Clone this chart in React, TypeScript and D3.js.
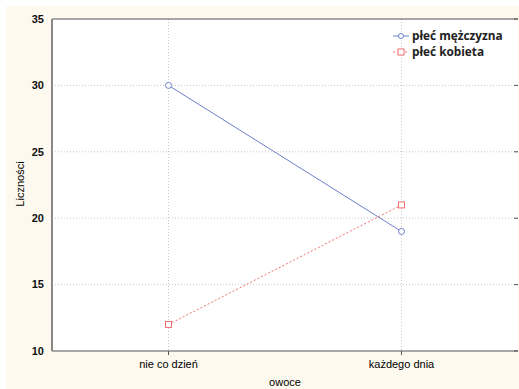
import React, { useEffect, useRef } from 'react'
import * as d3 from 'd3'

const categories = ['nie co dzień', 'każdego dnia']
const maleValues = [30, 19]
const femaleValues = [12, 21]
const yTicks = [10, 15, 20, 25, 30, 35]
const seriesNames = ['płeć mężczyzna', 'płeć kobieta']

export default function App() {
  const ref = useRef<SVGSVGElement>(null)

  useEffect(() => {
    const svg = d3.select(ref.current)
    svg.selectAll('*').remove()

    const W = 519
    const H = 389
    const margin = { top: 19, right: 1, bottom: 38, left: 52 }
    const width = W - margin.left - margin.right
    const height = H - margin.top - margin.bottom

    // cream frame
    svg.append('rect').attr('x', 6).attr('y', 6).attr('width', W - 6).attr('height', H - 6).attr('fill', '#fdf9ef')

    const x = d3.scalePoint<string>().domain(categories).range([0, width]).padding(0.5)
    const y = d3.scaleLinear().domain([10, 35]).range([height, 0])

    const g = svg.append('g').attr('transform', `translate(${margin.left},${margin.top})`)
    g.append('rect').attr('width', width).attr('height', height).attr('fill', '#fff')

    // grid
    g.selectAll('.hgrid')
      .data(yTicks.slice(1, -1))
      .enter()
      .append('line')
      .attr('x1', 0)
      .attr('x2', width)
      .attr('y1', d => y(d))
      .attr('y2', d => y(d))
      .attr('stroke', '#c8c8c8')
      .attr('stroke-dasharray', '1,2')
    g.selectAll('.vgrid')
      .data(categories)
      .enter()
      .append('line')
      .attr('x1', d => x(d)!)
      .attr('x2', d => x(d)!)
      .attr('y1', 0)
      .attr('y2', height)
      .attr('stroke', '#c8c8c8')
      .attr('stroke-dasharray', '1,2')

    // frame lines
    g.append('line').attr('x1', 0).attr('x2', width).attr('y1', 0).attr('y2', 0).attr('stroke', '#555')
    g.append('line').attr('x1', 0).attr('x2', width).attr('y1', height).attr('y2', height).attr('stroke', '#555')
    g.append('line').attr('x1', 0).attr('x2', 0).attr('y1', 0).attr('y2', height).attr('stroke', '#888').attr('stroke-width', 2)

    // right ticks
    g.selectAll('.rtick')
      .data(yTicks)
      .enter()
      .append('line')
      .attr('x1', width - 4)
      .attr('x2', width)
      .attr('y1', d => y(d))
      .attr('y2', d => y(d))
      .attr('stroke', '#555')
    g.selectAll('.ttick')
      .data(categories)
      .enter()
      .append('line')
      .attr('x1', d => x(d)!)
      .attr('x2', d => x(d)!)
      .attr('y1', height)
      .attr('y2', height + 4)
      .attr('stroke', '#555')

    // y labels
    g.selectAll('.ylab')
      .data(yTicks)
      .enter()
      .append('text')
      .attr('x', -8)
      .attr('y', d => y(d))
      .attr('dy', '0.35em')
      .attr('text-anchor', 'end')
      .style('font-family', 'Liberation Sans, Arial, sans-serif')
      .style('font-size', '11px')
      .style('font-weight', 'bold')
      .attr('fill', '#111')
      .text(d => d)

    // x labels
    g.selectAll('.xlab')
      .data(categories)
      .enter()
      .append('text')
      .attr('x', d => x(d)!)
      .attr('y', height + 17)
      .attr('text-anchor', 'middle')
      .style('font-family', 'Liberation Sans, Arial, sans-serif')
      .style('font-size', '11px')
      .attr('fill', '#000')
      .text(d => d)

    svg.append('text')
      .attr('x', margin.left + width / 2)
      .attr('y', 386)
      .attr('text-anchor', 'middle')
      .style('font-family', 'Liberation Sans, Arial, sans-serif')
      .style('font-size', '11px')
      .attr('fill', '#000')
      .text('owoce')

    svg.append('text')
      .attr('transform', 'rotate(-90)')
      .attr('x', -184)
      .attr('y', 24)
      .attr('text-anchor', 'middle')
      .style('font-family', 'Liberation Sans, Arial, sans-serif')
      .style('font-size', '11px')
      .attr('fill', '#000')
      .text('Liczności')

    const line = d3.line<number>()
      .x((_, i) => x(categories[i])!)
      .y(d => y(d))

    const blue = '#6d7fcc'
    const red = '#f06f6f'

    g.append('path').datum(maleValues).attr('d', line).attr('fill', 'none').attr('stroke', blue)
    g.append('path').datum(femaleValues).attr('d', line).attr('fill', 'none').attr('stroke', red).attr('stroke-dasharray', '2,2')

    g.selectAll('.mc')
      .data(maleValues)
      .enter()
      .append('circle')
      .attr('cx', (_, i) => x(categories[i])!)
      .attr('cy', d => y(d))
      .attr('r', 3)
      .attr('fill', '#fff')
      .attr('stroke', blue)
    g.selectAll('.fs')
      .data(femaleValues)
      .enter()
      .append('rect')
      .attr('x', (_, i) => x(categories[i])! - 3)
      .attr('y', d => y(d) - 3)
      .attr('width', 6)
      .attr('height', 6)
      .attr('fill', '#fff')
      .attr('stroke', red)

    // legend
    const leg = svg.append('g').attr('transform', 'translate(393,36)')
    leg.append('line').attr('x1', 0).attr('x2', 16).attr('y1', 0).attr('y2', 0).attr('stroke', blue)
    leg.append('circle').attr('cx', 8).attr('cy', 0).attr('r', 2.5).attr('fill', '#fff').attr('stroke', blue)
    leg.append('line').attr('x1', 0).attr('x2', 16).attr('y1', 16).attr('y2', 16).attr('stroke', red).attr('stroke-dasharray', '2,2')
    leg.append('rect').attr('x', 5).attr('y', 13).attr('width', 6).attr('height', 6).attr('fill', '#fff').attr('stroke', red)
    leg.selectAll('text')
      .data(seriesNames)
      .enter()
      .append('text')
      .attr('x', 19)
      .attr('y', (_, i) => i * 16)
      .attr('dy', '0.35em')
      .style('font-family', 'Open Sans, sans-serif')
      .style('font-size', '11.8px')
      .style('font-weight', 'bold')
      .attr('fill', '#222')
      .text(d => d)
  }, [])

  return <svg ref={ref} width={519} height={389} style={{ position: 'absolute', left: 0, top: 0 }} />
}
